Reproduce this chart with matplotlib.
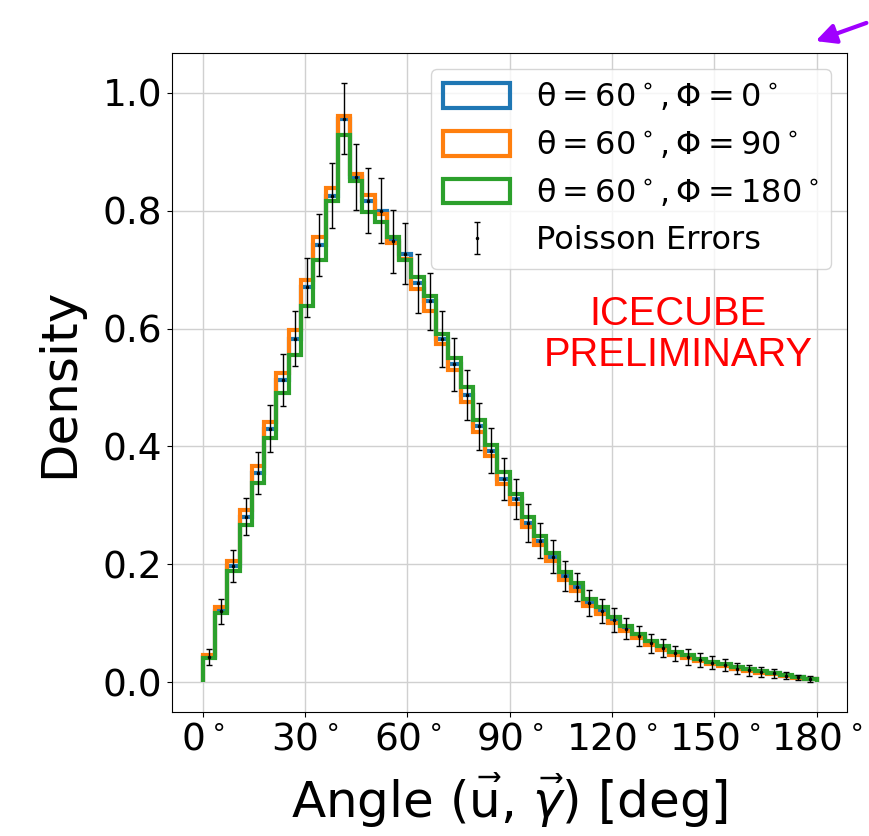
import matplotlib
matplotlib.use("Agg")
import matplotlib.pyplot as plt
import numpy as np

# bin edges of the angle histogram (50 bins over 0-180 deg)
bin_edges = np.linspace(0, 180, 51)
bin_centers = 0.5 * (bin_edges[1:] + bin_edges[:-1])

# densities
dens_phi0 = [0.043, 0.120, 0.197, 0.281, 0.355, 0.430, 0.513, 0.583, 0.670, 0.742,
             0.825, 0.956, 0.857, 0.817, 0.800, 0.748, 0.727, 0.677, 0.646, 0.582,
             0.539, 0.487, 0.434, 0.393, 0.345, 0.311, 0.270, 0.240, 0.213, 0.180,
             0.161, 0.135, 0.121, 0.106, 0.091, 0.078, 0.066, 0.058, 0.049, 0.043,
             0.038, 0.033, 0.029, 0.023, 0.020, 0.0175, 0.0148, 0.011, 0.008, 0.006]
dens_phi90 = [0.046, 0.127, 0.205, 0.292, 0.367, 0.442, 0.525, 0.598, 0.683, 0.755,
              0.838, 0.960, 0.862, 0.827, 0.795, 0.745, 0.718, 0.667, 0.630, 0.574,
              0.530, 0.476, 0.424, 0.383, 0.336, 0.302, 0.263, 0.232, 0.205, 0.174,
              0.155, 0.130, 0.116, 0.101, 0.087, 0.075, 0.063, 0.055, 0.047, 0.041,
              0.036, 0.031, 0.027, 0.022, 0.019, 0.016, 0.014, 0.010, 0.007, 0.005]
dens_phi180 = [0.041, 0.117, 0.188, 0.267, 0.338, 0.414, 0.490, 0.555, 0.638, 0.717,
               0.816, 0.929, 0.850, 0.797, 0.780, 0.756, 0.717, 0.688, 0.655, 0.590,
               0.550, 0.500, 0.445, 0.403, 0.356, 0.320, 0.280, 0.248, 0.220, 0.187,
               0.168, 0.141, 0.127, 0.111, 0.096, 0.082, 0.070, 0.061, 0.052, 0.046,
               0.040, 0.035, 0.031, 0.025, 0.022, 0.019, 0.016, 0.012, 0.009, 0.006]
# poisson errors on the phi=0 sample
errs_phi0 = [0.013, 0.021, 0.027, 0.032, 0.036, 0.040, 0.044, 0.047, 0.050, 0.053,
             0.055, 0.060, 0.056, 0.055, 0.055, 0.053, 0.052, 0.050, 0.049, 0.047,
             0.045, 0.043, 0.040, 0.038, 0.036, 0.034, 0.032, 0.030, 0.028, 0.026,
             0.024, 0.022, 0.021, 0.020, 0.018, 0.017, 0.016, 0.015, 0.013, 0.013,
             0.012, 0.011, 0.010, 0.009, 0.009, 0.008, 0.007, 0.006, 0.005, 0.005]

labels = [r'$\mathrm{\theta = 60^\circ, \Phi = 0^\circ}$',
          r'$\mathrm{\theta = 60^\circ, \Phi = 90^\circ}$',
          r'$\mathrm{\theta = 60^\circ, \Phi = 180^\circ}$']
tick_vals = [0, 30, 60, 90, 120, 150, 180]
tick_labels = [r'$%d^\circ$' % t for t in tick_vals]

fig = plt.figure(figsize=(8.69, 8.36), dpi=100)
ax = fig.add_axes([0.198, 0.148, 0.777, 0.789])

for dens, lab in zip([dens_phi0, dens_phi90, dens_phi180], labels):
    ax.hist(bin_centers, bins=bin_edges, weights=dens, histtype='step', lw=3, label=lab)

ax.errorbar(bin_centers, dens_phi0, yerr=errs_phi0, fmt='.', color='black',
            ms=3, elinewidth=1, capsize=2, label='Poisson Errors')

ax.set_xlim(-9, 189)
ax.set_ylim(-0.051, 1.068)
ax.set_xticks(tick_vals)
ax.set_xticklabels(tick_labels)
ax.tick_params(labelsize=27)
ax.set_xlabel(r'Angle ($\vec{\mathrm{u}}$, $\vec{\gamma}$) [deg]', fontsize=36, labelpad=10)
ax.set_ylabel('Density', fontsize=36, labelpad=14)
ax.grid(True, color='#d0d0d0', lw=1)
ax.set_axisbelow(True)

ax.legend(loc='upper right', fontsize=23, handlelength=2.1, handleheight=0.8)

ax.text(139.5, 0.59, 'ICECUBE\nPRELIMINARY', ha='center', va='center', color='red',
        fontsize=28.7, family='Liberation Sans', linespacing=1.1)

# purple pointer arrow in the top right corner
fig.patches.append(matplotlib.patches.FancyArrowPatch(
    (1.0, 1 - 22 / 836), (813 / 869, 1 - 42 / 836), transform=fig.transFigure,
    arrowstyle='-|>', mutation_scale=30, color='#a000ff', lw=3))

fig.savefig('out.png', dpi=100)
